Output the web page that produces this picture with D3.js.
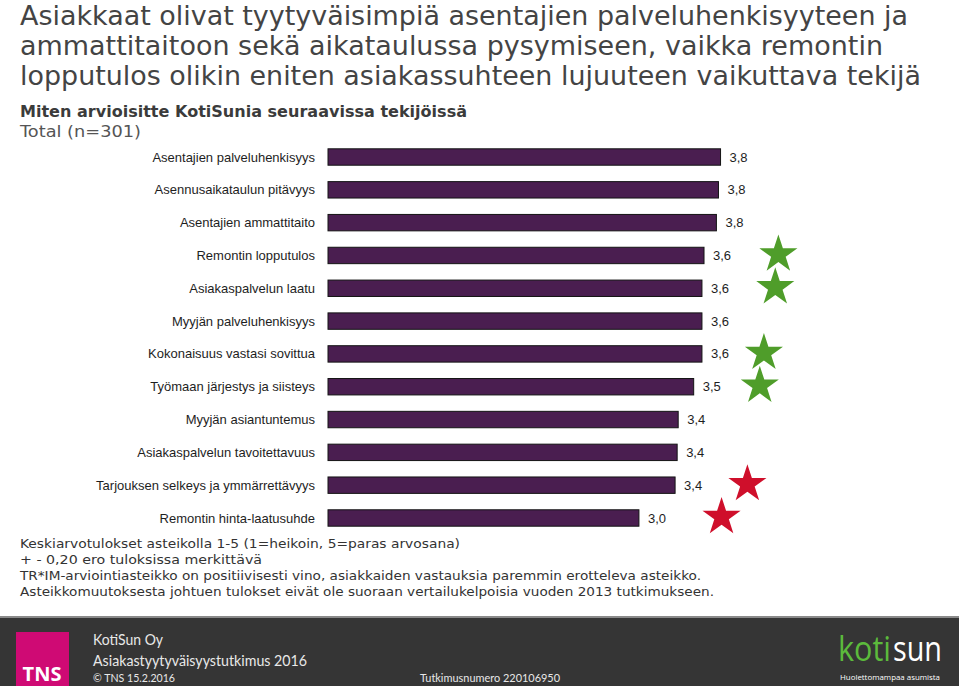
<!DOCTYPE html>
<html>
<head>
<meta charset="utf-8">
<script src="https://cdn.jsdelivr.net/npm/d3@7"></script>
<style>
  body { margin: 0; background: #fff; }
  svg { display: block; }
</style>
</head>
<body>
<div id="container"></div>
<script>
	var WIDTH = 959;
	var HEIGHT = 686;

	var titleLines = [
		"Asiakkaat olivat tyytyväisimpiä asentajien palveluhenkisyyteen ja",
		"ammattitaitoon sekä aikataulussa pysymiseen, vaikka remontin",
		"lopputulos olikin eniten asiakassuhteen lujuuteen vaikuttava tekijä"
	];
	var subtitle = "Miten arvioisitte KotiSunia seuraavissa tekijöissä";
	var baseText = "Total (n=301)";

	var categories = [
		"Asentajien palveluhenkisyys",
		"Asennusaikataulun pitävyys",
		"Asentajien ammattitaito",
		"Remontin lopputulos",
		"Asiakaspalvelun laatu",
		"Myyjän palveluhenkisyys",
		"Kokonaisuus vastasi sovittua",
		"Työmaan järjestys ja siisteys",
		"Myyjän asiantuntemus",
		"Asiakaspalvelun tavoitettavuus",
		"Tarjouksen selkeys ja ymmärrettävyys",
		"Remontin hinta-laatusuhde"
	];
	var values = [3.80, 3.78, 3.76, 3.64, 3.62, 3.62, 3.62, 3.54, 3.39, 3.38, 3.36, 3.01];

	// significant differences, star position given on the value axis
	var starCats = ["Remontin lopputulos", "Asiakaspalvelun laatu", "Kokonaisuus vastasi sovittua",
		"Työmaan järjestys ja siisteys", "Tarjouksen selkeys ja ymmärrettävyys", "Remontin hinta-laatusuhde"];
	var starPos = [4.36, 4.33, 4.22, 4.18, 4.06, 3.81];
	var starKind = ["up", "up", "up", "up", "down", "down"];

	var notes = [
		"Keskiarvotulokset asteikolla 1-5 (1=heikoin, 5=paras arvosana)",
		"+ - 0,20 ero tuloksissa merkittävä",
		"TR*IM-arviointiasteikko on positiivisesti vino, asiakkaiden vastauksia paremmin erotteleva asteikko.",
		"Asteikkomuutoksesta johtuen tulokset eivät ole suoraan vertailukelpoisia vuoden 2013 tutkimukseen."
	];
	var titleWidths = [888, 863, 901];
	var noteWidths = [440, 242, 681, 694];

	var svg = d3.select('#container')
		.append('svg')
		.attr('width', WIDTH)
		.attr('height', HEIGHT);

	// title
	svg.selectAll('.title')
		.data(titleLines)
		.enter().append('text')
		.attr('class', 'title')
		.attr('x', 20)
		.attr('y', function(d, i){ return 25 + i * 30; })
		.attr('textLength', function(d, i){ return titleWidths[i]; })
		.attr('lengthAdjust', 'spacingAndGlyphs')
		.style('font-family', 'DejaVu Sans, Verdana, sans-serif')
		.style('font-size', '26px')
		.style('fill', '#444')
		.text(function(d){ return d; });

	svg.append('text')
		.attr('x', 20).attr('y', 117)
		.attr('textLength', 447)
		.attr('lengthAdjust', 'spacingAndGlyphs')
		.style('font-family', 'DejaVu Sans, Verdana, sans-serif')
		.style('font-size', '15px')
		.style('font-weight', 'bold')
		.style('fill', '#3b3b3b')
		.text(subtitle);

	svg.append('text')
		.attr('x', 20).attr('y', 137)
		.attr('textLength', 121)
		.attr('lengthAdjust', 'spacingAndGlyphs')
		.style('font-family', 'DejaVu Sans, Verdana, sans-serif')
		.style('font-size', '15px')
		.style('fill', '#555')
		.text(baseText);

	// scales
	var x = d3.scaleLinear().domain([0, 5]).range([328, 844.5]);
	var y = d3.scaleBand().domain(categories).range([140.6, 534.4])
		.paddingInner(0.5).paddingOuter(0.25);

	var data = [];
	for(var i = 0; i < categories.length; i++){
		data.push({cat: categories[i], value: values[i]});
	}
	var fmt = d3.format('.1f');

	svg.selectAll('.bar')
		.data(data)
		.enter().append('rect')
		.attr('class', 'bar')
		.attr('x', x(0))
		.attr('y', function(d){ return y(d.cat); })
		.attr('width', function(d){ return x(d.value) - x(0); })
		.attr('height', y.bandwidth())
		.style('fill', '#4a1e50')
		.style('stroke', '#141414')
		.style('stroke-width', 1);

	svg.selectAll('.cat')
		.data(data)
		.enter().append('text')
		.attr('class', 'cat')
		.attr('x', 315)
		.attr('y', function(d){ return y(d.cat) + y.bandwidth() / 2; })
		.attr('dy', '0.35em')
		.attr('text-anchor', 'end')
		.style('font-family', 'Liberation Sans, Arial, sans-serif')
		.style('font-size', '13px')
		.style('fill', '#1e1e1e')
		.text(function(d){ return d.cat; });

	svg.selectAll('.val')
		.data(data)
		.enter().append('text')
		.attr('class', 'val')
		.attr('x', function(d){ return x(d.value) + 9; })
		.attr('y', function(d){ return y(d.cat) + y.bandwidth() / 2; })
		.attr('dy', '0.35em')
		.style('font-family', 'Liberation Sans, Arial, sans-serif')
		.style('font-size', '13px')
		.style('fill', '#1e1e1e')
		.text(function(d){ return fmt(d.value).replace('.', ','); });

	// stars
	var stars = [];
	for(var i = 0; i < starCats.length; i++){
		stars.push({cat: starCats[i], pos: starPos[i], kind: starKind[i]});
	}
	var star = d3.symbol().type(d3.symbolStar).size(450);
	svg.selectAll('.star')
		.data(stars)
		.enter().append('path')
		.attr('class', 'star')
		.attr('d', star)
		.attr('transform', function(d){
			return 'translate(' + x(d.pos) + ',' + (y(d.cat) + y.bandwidth() / 2 - 1) + ')';
		})
		.style('fill', function(d){ return d.kind == 'up' ? '#4f9d2a' : '#cf0f2b'; });

	// notes
	svg.selectAll('.note')
		.data(notes)
		.enter().append('text')
		.attr('class', 'note')
		.attr('x', 20)
		.attr('y', function(d, i){ return 548 + i * 16; })
		.attr('textLength', function(d, i){ return noteWidths[i]; })
		.attr('lengthAdjust', 'spacingAndGlyphs')
		.style('font-family', 'DejaVu Sans, Verdana, sans-serif')
		.style('font-size', '13px')
		.style('fill', '#333')
		.text(function(d){ return d; });

	// footer
	var footer = svg.append('g');
	footer.append('rect')
		.attr('x', 0).attr('y', 617).attr('width', WIDTH).attr('height', 69)
		.style('fill', '#353535');
	footer.append('rect')
		.attr('x', 0).attr('y', 616).attr('width', WIDTH).attr('height', 2)
		.style('fill', '#8a8a8a');
	footer.append('rect')
		.attr('x', 16).attr('y', 632).attr('width', 53).attr('height', 54)
		.style('fill', '#cf0a74');
	footer.append('text')
		.attr('x', 42).attr('y', 681)
		.attr('text-anchor', 'middle')
		.style('font-family', 'Open Sans, sans-serif')
		.style('font-weight', 'bold')
		.style('font-size', '20px')
		.style('fill', '#fff')
		.text('TNS');

	var footTexts = [
		{t: 'KotiSun Oy', x: 93, y: 645, s: 15, w: 70},
		{t: 'Asiakastyytyväisyystutkimus 2016', x: 93, y: 666, s: 15, w: 214},
		{t: '© TNS 15.2.2016', x: 93, y: 682, s: 11, w: 82},
		{t: 'Tutkimusnumero 220106950', x: 420, y: 682, s: 11, w: 140}
	];
	footer.selectAll('.foot')
		.data(footTexts)
		.enter().append('text')
		.attr('class', 'foot')
		.attr('x', function(d){ return d.x; })
		.attr('y', function(d){ return d.y; })
		.attr('textLength', function(d){ return d.w; })
		.attr('lengthAdjust', 'spacingAndGlyphs')
		.style('font-family', 'Lato, Open Sans, sans-serif')
		.style('font-size', function(d){ return d.s + 'px'; })
		.style('fill', '#e8e8e8')
		.text(function(d){ return d.t; });

	// logo in two pieces
	var logoParts = [
		{t: 'koti', x: 838, w: 53, c: '#5cba3c'},
		{t: 'sun', x: 893, w: 49, c: '#ffffff'}
	];
	footer.selectAll('.logo')
		.data(logoParts)
		.enter().append('text')
		.attr('class', 'logo')
		.attr('x', function(d){ return d.x; })
		.attr('y', 661)
		.attr('textLength', function(d){ return d.w; })
		.attr('lengthAdjust', 'spacingAndGlyphs')
		.style('font-family', 'Open Sans, sans-serif')
		.style('font-size', '34px')
		.style('fill', function(d){ return d.c; })
		.text(function(d){ return d.t; });
	footer.append('text')
		.attr('x', 840).attr('y', 680)
		.attr('textLength', 100)
		.attr('lengthAdjust', 'spacingAndGlyphs')
		.style('font-family', 'Open Sans, sans-serif')
		.style('font-size', '8px')
		.style('fill', '#fff')
		.text('Huolettomampaa asumista');
</script>
</body>
</html>
